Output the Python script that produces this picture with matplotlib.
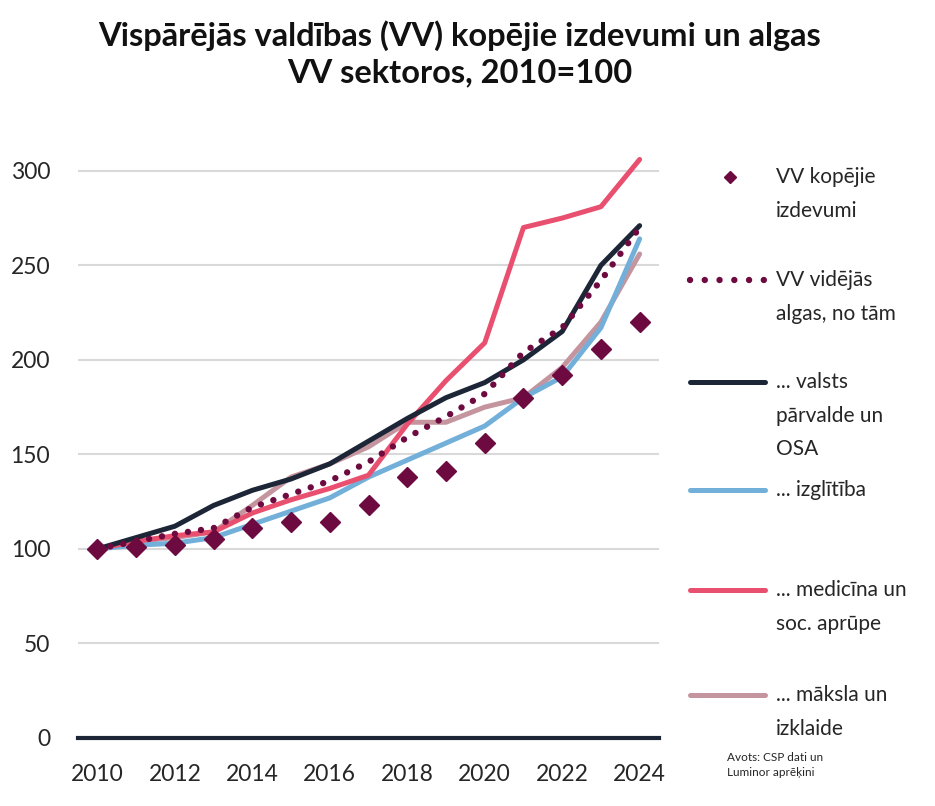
import numpy as np
import matplotlib.pyplot as plt
from matplotlib.lines import Line2D

plt.rcParams['font.family'] = ['Lato', 'DejaVu Sans']

years = list(range(2010, 2025))

# VV kopējie izdevumi (markers only)
total_spend = [100, 101, 102, 105, 111, 114, 114, 123, 138, 141, 156, 180, 192, 206, 220]
# VV vidējās algas
avg_wage = [100, 104, 108, 111, 122, 129, 136, 146, 159, 170, 182, 204, 217, 242, 270]
# ... valsts pārvalde un OSA
public_admin = [100, 106, 112, 123, 131, 137, 145, 157, 169, 180, 188, 200, 215, 250, 271]
# ... izglītība
education = [100, 102, 103, 106, 113, 120, 127, 138, 147, 156, 165, 180, 191, 217, 264]
# ... medicīna un soc. aprūpe
health = [100, 104, 107, 109, 119, 126, 132, 139, 166, 189, 209, 270, 275, 281, 306]
# ... māksla un izklaide
arts = [100, 104, 106, 109, 123, 138, 145, 154, 167, 167, 175, 180, 196, 220, 256]

legend_labels = [
    "VV kopējie\nizdevumi",
    "VV vidējās\nalgas, no tām",
    "... valsts\npārvalde un\nOSA",
    "... izglītība",
    "... medicīna un\nsoc. aprūpe",
    "... māksla un\nizklaide",
]

c_total = "#6d0a3f"
c_admin = "#1c2636"
c_edu = "#72afd9"
c_health = "#e9506f"
c_arts = "#c4959f"
c_text = "#262626"

W, H = 935, 806
fig = plt.figure(figsize=(W / 100, H / 100), dpi=100)
ax = fig.add_axes([78 / W, 1 - 738 / H, (659 - 78) / W, (738 - 133) / H])

lw = 3.6
ax.plot(years, arts, color=c_arts, lw=lw, solid_capstyle='round', zorder=3)
ax.plot(years, education, color=c_edu, lw=lw, solid_capstyle='round', zorder=3)
ax.plot(years, health, color=c_health, lw=lw, solid_capstyle='round', zorder=4)
ax.plot(years, public_admin, color=c_admin, lw=lw, solid_capstyle='round', zorder=5)
ax.plot(years, avg_wage, color=c_total, lw=4.6, linestyle=(0, (0.01, 2.05)),
        dash_capstyle='round', zorder=6)
ax.plot(years, total_spend, linestyle='none', marker='D', ms=10.5,
        color=c_total, zorder=7)

ax.set_xlim(2009.5, 2024.5)
ax.set_ylim(0, 320)
ax.set_yticks(range(0, 301, 50))
ax.set_xticks(range(2010, 2025, 2))
for v in range(50, 301, 50):
    ax.axhline(v, color="#d9d9d9", lw=1.5, zorder=1)
ax.axhline(0, color=c_admin, lw=3, zorder=2, clip_on=False)

for s in ax.spines.values():
    s.set_visible(False)
ax.tick_params(axis='both', length=0, labelsize=16.5, colors=c_text)
ax.tick_params(axis='y', pad=20)
ax.tick_params(axis='x', pad=19)

# title
fig.text(460 / W, 1 - 36 / H, "Vispārējās valdības (VV) kopējie izdevumi un algas",
         ha='center', va='center', fontsize=23.5, fontweight='bold', color="#111111")
fig.text(460 / W, 1 - 73 / H, "VV sektoros, 2010=100",
         ha='center', va='center', fontsize=23.5, fontweight='bold', color="#111111")

# legend drawn by hand to keep the Excel-like slots
slots = [177, 280, 382, 490, 590, 695]
styles = [
    dict(linestyle='none', marker='D', ms=6.5, color=c_total),
    dict(lw=4.6, linestyle=(0, (0.01, 2.3)), dash_capstyle='round', color=c_total),
    dict(lw=lw, color=c_admin, solid_capstyle='round'),
    dict(lw=lw, color=c_edu, solid_capstyle='round'),
    dict(lw=lw, color=c_health, solid_capstyle='round'),
    dict(lw=lw, color=c_arts, solid_capstyle='round'),
]
for py, lab, st in zip(slots, legend_labels, styles):
    yy = 1 - py / H
    if st.get('marker'):
        fig.add_artist(Line2D([730 / W], [yy], transform=fig.transFigure, **st))
    else:
        fig.add_artist(Line2D([690 / W, 765 / W], [yy, yy], transform=fig.transFigure, **st))
    fig.text(776 / W, yy + 10 / H, lab, ha='left', va='top', fontsize=15,
             color=c_text, linespacing=1.85)

fig.text(727 / W, 1 - 752 / H, "Avots: CSP dati un\nLuminor aprēķini", ha='left', va='top',
         fontsize=8.5, color=c_text, linespacing=1.5)

fig.savefig("out.png", dpi=100, facecolor='white')
